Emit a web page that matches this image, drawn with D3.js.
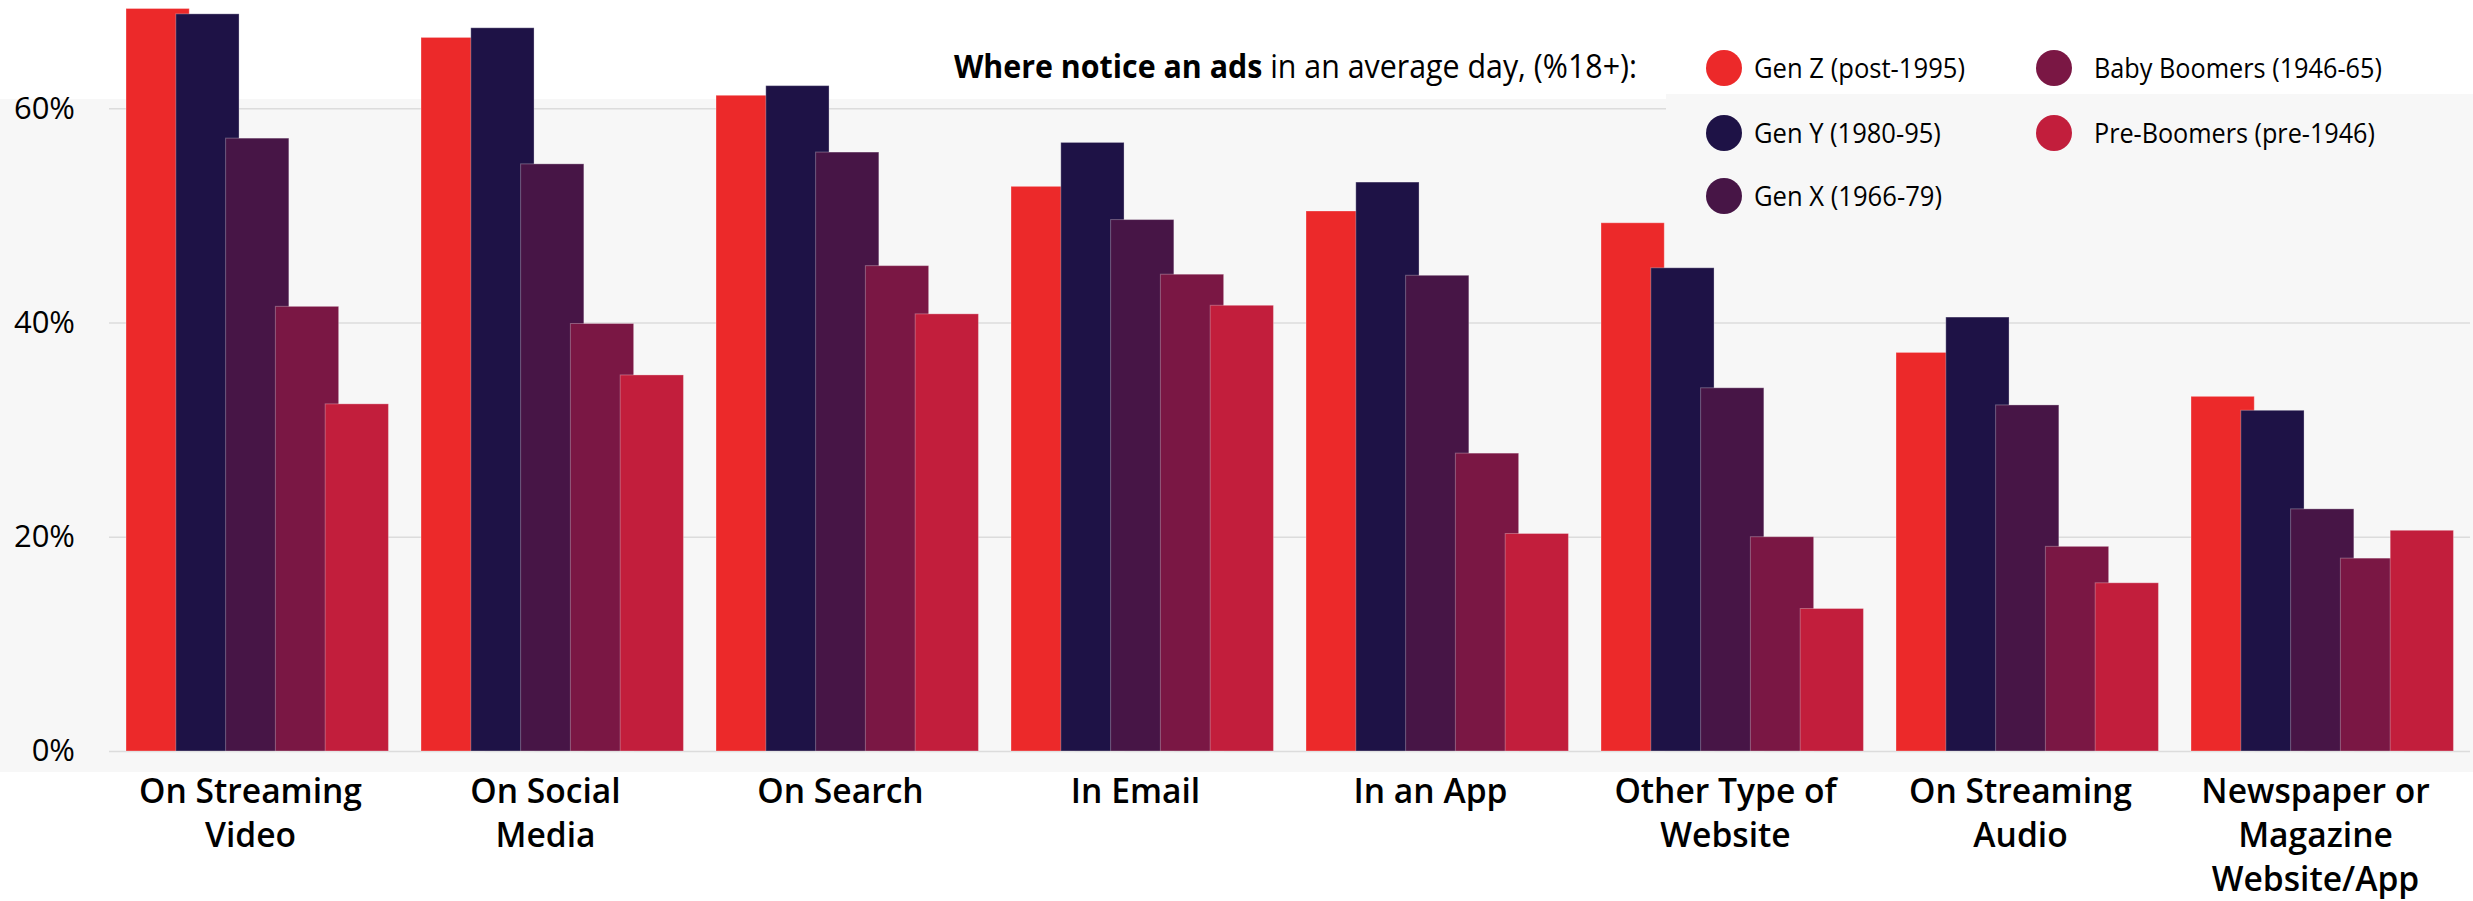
<!DOCTYPE html>
<html>
<head>
<meta charset="utf-8">
<script src="https://cdn.jsdelivr.net/npm/d3@7"></script>
<style>
  html, body { margin: 0; padding: 0; background: #ffffff; }
  svg { display: block; font-family: "Open Sans", "Noto Sans", sans-serif; }
</style>
</head>
<body>
<svg id="chart" width="2473" height="901"></svg>
<script>
// Ad-noticing channels by generation, share of adults 18+ (%)
const categories = [
  "On Streaming Video", "On Social Media", "On Search", "In Email",
  "In an App", "Other Type of Website", "On Streaming Audio",
  "Newspaper or Magazine Website/App"
];
const categoryLines = [
  ["On Streaming", "Video"], ["On Social", "Media"], ["On Search"], ["In Email"],
  ["In an App"], ["Other Type of", "Website"], ["On Streaming", "Audio"],
  ["Newspaper or", "Magazine", "Website/App"]
];
const seriesNames = [
  "Gen Z (post-1995)", "Gen Y (1980-95)", "Gen X (1966-79)",
  "Baby Boomers (1946-65)", "Pre-Boomers (pre-1946)"
];
const seriesColors = ["#ec292a", "#1e1246", "#471546", "#7a1744", "#c21e3c"];

const genZ       = [69.3, 66.6, 61.2, 52.7, 50.4, 49.3, 37.2, 33.1];
const genY       = [68.8, 67.5, 62.1, 56.8, 53.1, 45.1, 40.5, 31.8];
const genX       = [57.2, 54.8, 55.9, 49.6, 44.4, 33.9, 32.3, 22.6];
const boomers    = [41.5, 39.9, 45.3, 44.5, 27.8, 20.0, 19.1, 18.0];
const preBoomers = [32.4, 35.1, 40.8, 41.6, 20.3, 13.3, 15.7, 20.6];
const seriesValues = [genZ, genY, genX, boomers, preBoomers];

const yTicks = [0, 20, 40, 60];

const FONT = "'Open Sans', 'Noto Sans', sans-serif";
const svg = d3.select("#chart");

// Scales
const x0 = d3.scaleBand()
  .domain(categories)
  .range([103, 2463])
  .paddingInner(0.156)
  .paddingOuter(0.078);

const x1 = d3.scaleBand()
  .domain(seriesNames)
  .range([0, x0.bandwidth()]);

const barWidth = x1.step() * 1.27;

const y = d3.scaleLinear().domain([0, 70]).range([751, 1]);

// Plot background
svg.append("rect")
  .attr("x", 0).attr("y", 99)
  .attr("width", 2473).attr("height", 673)
  .attr("fill", "#f7f7f7");

// Gridlines + y tick labels
const yAxis = svg.append("g")
  .attr("transform", "translate(109,0)")
  .call(d3.axisLeft(y).tickValues(yTicks).tickFormat(d => d + "%")
    .tickSize(-2361).tickPadding(34));
yAxis.attr("font-family", null);
yAxis.select(".domain").remove();
yAxis.selectAll(".tick line").attr("stroke", "#dcdcdc").attr("stroke-width", 1.5);
yAxis.selectAll(".tick text")
  .attr("fill", "#000")
  .style("font-size", "31px")
  .style("font-family", FONT);

// Legend backdrop
svg.append("rect")
  .attr("x", 1666).attr("y", 94)
  .attr("width", 807).attr("height", 125)
  .attr("fill", "#f7f7f7");

// Bars: each series slot overlaps the next, later series drawn on top
const groups = svg.append("g").selectAll("g")
  .data(categories)
  .join("g")
  .attr("transform", d => `translate(${x0(d)},0)`);

groups.selectAll("rect")
  .data((c, ci) => seriesNames.map((s, si) => ({ s, si, v: seriesValues[si][ci] })))
  .join("rect")
  .attr("x", d => x1(d.s))
  .attr("y", d => y(d.v))
  .attr("width", barWidth)
  .attr("height", d => y(0) - y(d.v))
  .attr("fill", d => seriesColors[d.si])
  .attr("stroke", "rgba(255,255,255,0.3)")
  .attr("stroke-width", 1);

// Category labels
const xAxis = svg.append("g")
  .attr("transform", "translate(0,751)")
  .call(d3.axisBottom(x0).tickSize(0).tickFormat(""));
xAxis.attr("font-family", null);
xAxis.select(".domain").remove();
xAxis.selectAll(".tick").each(function(d, i) {
  const t = d3.select(this).append("text")
    .attr("text-anchor", "middle")
    .attr("transform", "scale(0.96,1)")
    .attr("fill", "#000")
    .style("font-family", FONT)
    .style("font-size", "35px")
    .style("font-weight", 600);
  categoryLines[i].forEach((line, li) => {
    t.append("tspan").attr("x", 0).attr("y", 52 + li * 44).text(line);
  });
});

// Horizontally condensed text block
function condensed(parent, x, yPos, width, build) {
  const g = parent.append("g");
  const t = g.append("text").attr("x", 0).attr("y", 0).attr("fill", "#000")
    .style("font-family", FONT);
  build(t);
  const w = t.node().getComputedTextLength();
  g.attr("transform", `translate(${x},${yPos}) scale(${width / w},1)`);
  return t;
}

// Title
condensed(svg, 954, 78, 683, t => {
  t.style("font-size", "32px");
  t.append("tspan").style("font-weight", 700).text("Where notice an ads");
  t.append("tspan").text(" in an average day, (%18+):");
});

// Legend
const legendPos = [
  { cx: 1724, tx: 1754, cy: 68,  w: 211 },
  { cx: 1724, tx: 1754, cy: 133, w: 187 },
  { cx: 1724, tx: 1754, cy: 196, w: 188 },
  { cx: 2054, tx: 2094, cy: 68,  w: 288 },
  { cx: 2054, tx: 2094, cy: 133, w: 281 }
];
seriesNames.forEach((name, i) => {
  const p = legendPos[i];
  svg.append("circle")
    .attr("cx", p.cx).attr("cy", p.cy).attr("r", 18)
    .attr("fill", seriesColors[i]);
  condensed(svg, p.tx, p.cy + 10, p.w, t => {
    t.style("font-size", "28px").text(name);
  });
});
</script>
</body>
</html>
